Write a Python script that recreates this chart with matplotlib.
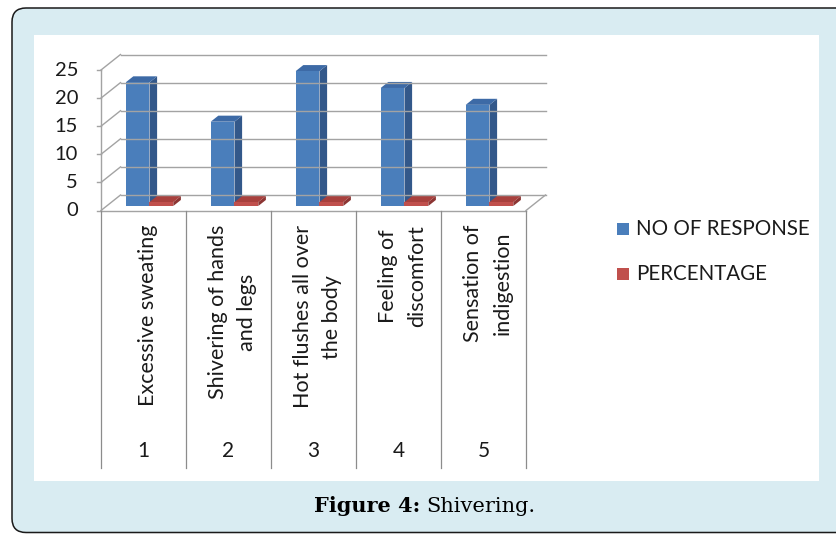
import matplotlib
matplotlib.use("Agg")
import matplotlib.pyplot as plt
from matplotlib.patches import Polygon, Rectangle, FancyBboxPatch

# ---- data -------------------------------------------------------------
categories = [
    "Excessive sweating",
    "Shivering of hands\nand legs",
    "Hot flushes all over\nthe body",
    "Feeling of\ndiscomfort",
    "Sensation of\nindigestion",
]
category_numbers = ["1", "2", "3", "4", "5"]
no_of_response = [22, 15, 24, 21, 18]
percentage = [0.7, 0.7, 0.7, 0.7, 0.7]
y_ticks = [0, 5, 10, 15, 20, 25]
series_names = ["NO OF RESPONSE", "PERCENTAGE"]

# ---- style ------------------------------------------------------------
FONT = "Lato"
BLUE = ("#4a7ebb", "#33588a", "#3d6aa6")   # front, side, top
RED = ("#c0504d", "#8c3533", "#a8403d")
GRID = "#a3a3a3"
TXT = "#1a1a1a"
W, H = 836, 535

fig = plt.figure(figsize=(W / 100, H / 100), dpi=100)
fig.patch.set_facecolor("white")

# full-figure pixel canvas for the frame, legend and caption
bg = fig.add_axes([0, 0, 1, 1])
bg.set_xlim(0, W)
bg.set_ylim(H, 0)
bg.axis("off")
bg.add_patch(FancyBboxPatch((12, 8), 900, 524.5,
                            boxstyle="round,pad=0,rounding_size=14",
                            fc="#d9ecf2", ec="#1a1a1a", lw=1.1))
bg.add_patch(Rectangle((34, 35), 785, 446, fc="white", ec="none"))

# chart axes: x in category units, y in value units
X0, X1, Y0, Y1 = 101, 526, 210.5, 70
ax = fig.add_axes([X0 / W, (H - Y0) / H, (X1 - X0) / W, (Y0 - Y1) / H])
ax.set_xlim(0, len(categories))
ax.set_ylim(0, 25)
ax.axis("off")
SCALE = (Y0 - Y1) / 25.0
CAT = (X1 - X0) / len(categories)


def vy(px):
    """pixel row -> value units of the chart axes"""
    return (Y0 - px) / SCALE


def ux(px):
    """pixel offset -> category units"""
    return px / CAT


DX, DY = ux(19.5), 15.5 / SCALE
n = len(categories)

# walls and floor
for v in y_ticks:
    ax.plot([DX, n + DX], [v + DY, v + DY], color=GRID, lw=1.0, clip_on=False)
    ax.plot([0, DX], [v, v + DY], color=GRID, lw=1.0, clip_on=False)
    ax.plot([-ux(4), 0], [v, v], color=GRID, lw=1.0, clip_on=False)
    ax.text(-ux(23), v, str(v), ha="right", va="center", fontsize=14.5,
            family=FONT, color=TXT)
ax.plot([0, n], [0, 0], color=GRID, lw=1.0, clip_on=False)
ax.plot([n, n + DX], [0, DY], color=GRID, lw=1.0, clip_on=False)
ax.plot([0, 0], [0, 25], color=GRID, lw=1.0, clip_on=False)

# category table below the floor
for i in range(n + 1):
    ax.plot([i, i], [0, vy(468)], color="#8c8c8c", lw=0.9, clip_on=False)
for i in range(n):
    ax.text(i + 0.5 + ux(4), vy(225), categories[i], rotation=90,
            ha="center", va="top", multialignment="center",
            fontsize=15.5, family=FONT, linespacing=1.62, color=TXT)
    ax.text(i + 0.5, vy(451), category_numbers[i], ha="center", va="center",
            fontsize=15, family=FONT, color=TXT)


def bar3d(x0, w, h, colors, z0=0.29, dz=0.39):
    ox, oy = z0 * DX, z0 * DY
    bx, by = dz * DX, dz * DY
    xl, xr = x0 + ox, x0 + ox + w
    front, side, top = colors
    ax.add_patch(Polygon([(xr, oy), (xr + bx, oy + by), (xr + bx, oy + by + h),
                          (xr, oy + h)], closed=True, fc=side, ec="none",
                         clip_on=False))
    ax.add_patch(Polygon([(xl, oy + h), (xr, oy + h), (xr + bx, oy + h + by),
                          (xl + bx, oy + h + by)], closed=True, fc=top,
                         ec="none", clip_on=False))
    ax.add_patch(Rectangle((xl, oy), w, h, fc=front, ec="none", clip_on=False))


BW = 0.28
for i in range(n):
    bar3d(i + 0.224, BW, no_of_response[i], BLUE)
    bar3d(i + 0.224 + BW, BW, percentage[i], RED)

# legend
for k, (name, col) in enumerate(zip(series_names, (BLUE[0], RED[0]))):
    yc = 229 + k * 45
    bg.add_patch(Rectangle((617, yc - 6), 12, 12, fc=col, ec="none"))
    bg.text(636, yc, name, ha="left", va="center", fontsize=14.8,
            family=FONT, color=TXT)

# caption
bg.text(420, 506, "Figure 4:", ha="right", va="center", fontsize=15,
        family="DejaVu Serif", weight="bold", color="black")
bg.text(426, 506, "Shivering.", ha="left", va="center", fontsize=15,
        family="DejaVu Serif", color="black")

fig.savefig("out.png", dpi=100)
